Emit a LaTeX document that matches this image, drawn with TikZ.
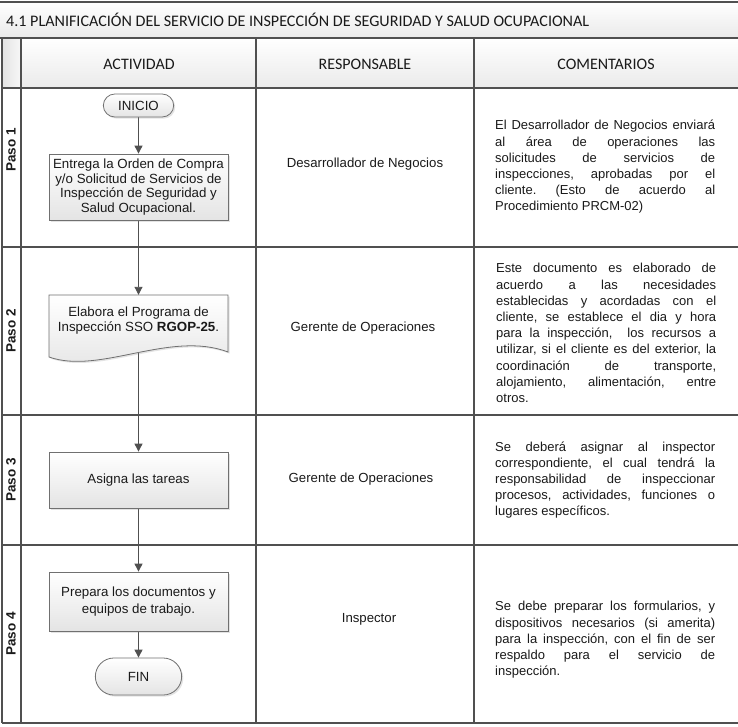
\documentclass[tikz,border=0pt]{standalone}
\usepackage{fontspec}
\setmainfont{Liberation Sans}
\newfontfamily\calibri{Carlito}
\usetikzlibrary{arrows.meta,shapes.misc,shadows,backgrounds}
\pgfdeclarelayer{back}
\pgfdeclarelayer{conns}
\pgfsetlayers{back,conns,main}
\definecolor{linec}{HTML}{505050}
\definecolor{boxline}{HTML}{707070}
\definecolor{boxbot}{HTML}{E4E4E4}
\definecolor{hdrbot}{HTML}{EAEAEA}
\definecolor{txt}{HTML}{1A1A1A}
\newlength\cw
\setlength\cw{220pt}
\newcommand\JLine[1]{\makebox[\cw][s]{#1}\\}
\frenchspacing
\begin{document}
\begin{tikzpicture}[x=1pt,y=-1pt,
  gridline/.style={draw=linec, line width=1.3pt},
  shadowed/.style={drop shadow={shadow xshift=1.6pt, shadow yshift=-1.6pt, opacity=0.22}},
  flowbox/.style={draw=boxline, line width=0.8pt, top color=white, bottom color=boxbot,
    shadowed, minimum width=179pt, inner sep=2pt, align=center, text=txt,
    font=\fontsize{13.3}{14.5}\selectfont},
  term/.style={rounded rectangle, draw=boxline, line width=0.8pt, top color=white, bottom color=boxbot,
    shadowed, align=center, text=txt, font=\fontsize{13.3}{14.5}\selectfont},
  conn/.style={draw=linec, line width=0.9pt, -{Triangle[length=8pt,width=8pt]}},
  resp/.style={font=\fontsize{13.2}{15}\selectfont, text=txt},
  comment/.style={font=\fontsize{13}{16.2}\selectfont, align=left, anchor=west, inner sep=0pt, text=txt},
  lanelabel/.style={rotate=90, font=\bfseries\fontsize{13.5}{13.5}\selectfont, text=txt},
  hdr/.style={font=\calibri\fontsize{16}{18}\selectfont, text=txt}
]
\useasboundingbox (0,0) rectangle (738,726);
\begin{pgfonlayer}{back}
\fill[white] (0,0) rectangle (738,726);
\fill[top color=white, bottom color=hdrbot] (0,2) rectangle (738,38);
\fill[top color=white, bottom color=hdrbot] (21,38) rectangle (738,88);
\fill[left color=gray!22, right color=gray!6] (2,38) rectangle (21,88);
\end{pgfonlayer}

% title
\node[anchor=west, font=\calibri\fontsize{16.1}{18}\selectfont, text=txt, inner sep=0pt] (title) at (6,20)
  {4.1 PLANIFICACIÓN DEL SERVICIO DE INSPECCIÓN DE SEGURIDAD Y SALUD OCUPACIONAL};

% header labels
\node[hdr] (hact) at (139,64) {ACTIVIDAD};
\node[hdr] (hresp) at (365,64) {RESPONSABLE};
\node[hdr] (hcom) at (606,64) {COMENTARIOS};

% grid
\draw[gridline] (0,2) -- (738,2);
\draw[gridline] (0,38) -- (738,38);
\foreach \yy in {88,247,415,545,723} \draw[gridline] (2,\yy) -- (738,\yy);
\draw[gridline] (2,38) -- (2,723);
\draw[gridline] (21,38) -- (21,723);
\draw[gridline] (256,38) -- (256,723);
\draw[gridline] (474,38) -- (474,723);

% lane labels
\node[lanelabel] (p1) at (11,150) {Paso 1};
\node[lanelabel] (p2) at (11,331) {Paso 2};
\node[lanelabel] (p3) at (11,480) {Paso 3};
\node[lanelabel] (p4) at (11,634) {Paso 4};

% flow nodes
\node[term, minimum width=77pt, minimum height=23pt] (inicio) at (138.5,105.5) {INICIO};
\node[flowbox, minimum height=66pt] (b1) at (138.5,187)
  {Entrega la Orden de Compra\\y/o Solicitud de Servicios de\\Inspección de Seguridad y\\Salud Ocupacional.};
\path[draw=boxline, line width=0.8pt, top color=white, bottom color=boxbot, shadowed]
  (49,295) -- (228,295) -- (228,352) .. controls (170,330) and (100,375) .. (49,357) -- cycle;
\node[minimum width=179pt, minimum height=58pt, inner sep=0pt] (b2) at (138.5,324) {};
\node[align=center, text=txt, font=\fontsize{13.3}{15}\selectfont] (b2t) at (138.5,320.5)
  {Elabora el Programa de\\Inspección SSO \textbf{RGOP-25}.};
\node[flowbox, minimum height=56pt] (b3) at (138.5,480) {Asigna las tareas};
\node[flowbox, minimum height=59pt, font=\fontsize{13.3}{16.5}\selectfont] (b4) at (138.5,601.5)
  {Prepara los documentos y\\equipos de trabajo.};
\node[term, minimum width=93pt, minimum height=37pt] (fin) at (138.5,676.5) {FIN};

\begin{pgfonlayer}{conns}
\draw[conn] (inicio.south) -- (b1.north);
\draw[conn] (b1.south) -- (b2.north);
\draw[conn] (b2.south) -- (b3.north);
\draw[conn] (b3.south) -- (b4.north);
\draw[conn] (b4.south) -- (fin.north);
\end{pgfonlayer}

% responsables
\node[resp] (r1) at (365,164) {Desarrollador de Negocios};
\node[resp] (r2) at (363,328) {Gerente de Operaciones};
\node[resp] (r3) at (361,479) {Gerente de Operaciones};
\node[resp] (r4) at (369,619) {Inspector};

% comments
\node[comment] (c1) at (495,167) {%
\JLine{El Desarrollador de Negocios enviará}
\JLine{al área de operaciones las}
\JLine{solicitudes de servicios de}
\JLine{inspecciones, aprobadas por el}
\JLine{cliente. (Esto de acuerdo al}
Procedimiento PRCM-02)};
\node[comment] (c2) at (496,333) {%
\JLine{Este documento es elaborado de}
\JLine{acuerdo a las necesidades}
\JLine{establecidas y acordadas con el}
\JLine{cliente, se establece el dia y hora}
\JLine{para la inspección, \ los recursos a}
\JLine{utilizar, si el cliente es del exterior, la}
\JLine{coordinación de transporte,}
\JLine{alojamiento, alimentación, entre}
otros.};
\node[comment] (c3) at (495,480) {%
\JLine{Se deberá asignar al inspector}
\JLine{correspondiente, el cual tendrá la}
\JLine{responsabilidad de inspeccionar}
\JLine{procesos, actividades, funciones o}
lugares específicos.};
\node[comment] (c4) at (495,640) {%
\JLine{Se debe preparar los formularios, y}
\JLine{dispositivos necesarios (si amerita)}
\JLine{para la inspección, con el fin de ser}
\JLine{respaldo para el servicio de}
inspección.};
\end{tikzpicture}
\end{document}
